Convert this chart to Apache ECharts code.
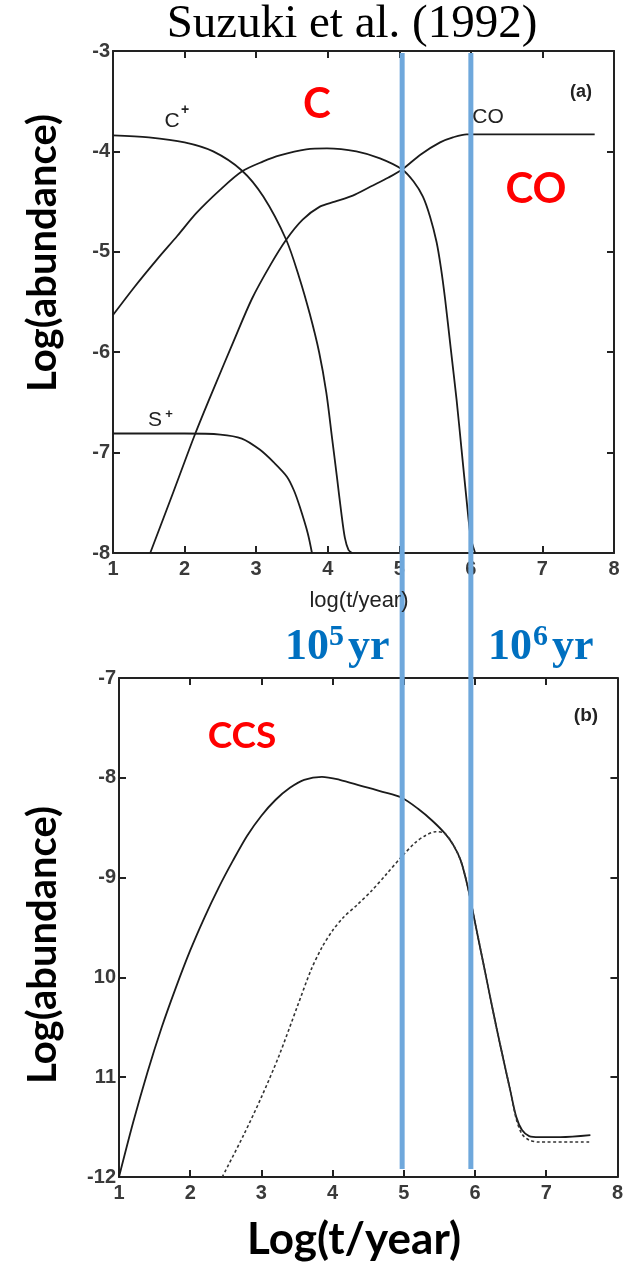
<!DOCTYPE html>
<html>
<head>
<meta charset="utf-8">
<script src="https://cdn.jsdelivr.net/npm/echarts@6/dist/echarts.min.js"></script>
<style>
  html, body { margin: 0; padding: 0; background: #fff; }
  #main { width: 626px; height: 1268px; }
</style>
</head>
<body>
<div id="main"></div>
<script>
// Horizontal axis: log10(t / year)
const logTicks = [1, 2, 3, 4, 5, 6, 7, 8];

// Panel (a): log abundances of C+, C, CO and S+
const cPlus = [
  [1.0, -3.84], [1.5, -3.86], [2.0, -3.91], [2.4, -4.0], [2.8, -4.19], [3.1, -4.45],
  [3.42, -4.88], [3.6, -5.25], [3.75, -5.62], [3.88, -6.0], [3.98, -6.4], [4.06, -6.85],
  [4.13, -7.25], [4.19, -7.6], [4.24, -7.85], [4.29, -7.97], [4.34, -8.0]
];
const cNeutral = [
  [1.0, -5.63], [1.3, -5.35], [1.61, -5.08], [1.9, -4.84], [2.17, -4.61], [2.5, -4.38],
  [2.8, -4.2], [3.1, -4.1], [3.33, -4.04], [3.7, -3.98], [3.99, -3.97], [4.4, -4.0],
  [4.73, -4.07], [5.04, -4.18], [5.2, -4.3], [5.33, -4.45], [5.43, -4.65], [5.52, -4.9],
  [5.58, -5.15], [5.64, -5.47], [5.72, -5.97], [5.80, -6.47], [5.87, -6.97], [5.94, -7.47],
  [6.0, -7.85], [6.06, -8.0]
];
const coMol = [
  [1.52, -8.0], [1.85, -7.38], [2.15, -6.81], [2.42, -6.34], [2.68, -5.9], [2.94, -5.47],
  [3.2, -5.13], [3.42, -4.88], [3.65, -4.68], [3.89, -4.55], [4.1, -4.5], [4.35, -4.44],
  [4.6, -4.35], [4.85, -4.26], [5.04, -4.18], [5.3, -4.03], [5.57, -3.91], [5.75, -3.86],
  [5.94, -3.83], [6.5, -3.83], [7.0, -3.83], [7.73, -3.83]
];
const sPlus = [
  [1.0, -6.81], [1.5, -6.81], [2.0, -6.81], [2.5, -6.82], [2.8, -6.86], [3.05, -6.97],
  [3.25, -7.1], [3.43, -7.24], [3.53, -7.38], [3.61, -7.54], [3.72, -7.8], [3.78, -8.0]
];

// Panel (b): log abundance of CCS (solid and dotted models)
const ccsSolid = [
  [1.0, -12.0], [1.2, -11.45], [1.4, -10.95], [1.6, -10.5], [1.8, -10.1], [2.0, -9.73],
  [2.2, -9.4], [2.4, -9.1], [2.6, -8.83], [2.8, -8.58], [3.0, -8.38], [3.2, -8.22],
  [3.4, -8.1], [3.6, -8.02], [3.85, -7.99], [4.1, -8.02], [4.4, -8.08], [4.7, -8.14],
  [4.97, -8.2], [5.2, -8.31], [5.4, -8.43], [5.58, -8.56], [5.7, -8.68], [5.8, -8.83],
  [5.9, -9.1], [6.0, -9.45], [6.1, -9.8], [6.3, -10.5], [6.5, -11.15], [6.58, -11.4],
  [6.66, -11.53], [6.76, -11.59], [6.9, -11.6], [7.2, -11.6], [7.62, -11.58]
];
const ccsDotted = [
  [2.45, -12.0], [2.75, -11.58], [3.0, -11.2], [3.25, -10.78], [3.5, -10.3], [3.7, -9.92],
  [3.85, -9.7], [4.0, -9.53], [4.15, -9.4], [4.35, -9.27], [4.55, -9.13], [4.75, -8.97],
  [4.97, -8.79], [5.16, -8.65], [5.3, -8.58], [5.45, -8.54], [5.58, -8.56], [5.7, -8.68],
  [5.8, -8.83], [5.9, -9.1], [6.0, -9.45], [6.1, -9.8], [6.3, -10.5], [6.5, -11.15],
  [6.58, -11.42], [6.66, -11.57], [6.76, -11.63], [6.9, -11.65], [7.61, -11.65]
];

// Vertical tick labels as printed on each panel
const aYLabels = ['-8', '-7', '-6', '-5', '-4', '-3'];
const bYLabels = ['-12', '11', '10', '-9', '-8', '-7'];

// Markers for 10^5 and 10^6 yr (log t)
const markerLogT = [5.04, 6.0];

const axisColor = '#222';
const curveColor = '#1b1b1b';
const labelFont = { fontFamily: 'Liberation Sans', fontSize: 20, fontWeight: 'bold', color: '#3a3a3a' };

function xAxes(gi) {
  const base = {
    gridIndex: gi, type: 'value', min: 1, max: 8, interval: 1,
    axisLine: { show: true, onZero: false, lineStyle: { color: axisColor, width: 2 } },
    axisTick: { show: true, inside: true, length: 7, lineStyle: { color: axisColor, width: 2 } },
    splitLine: { show: false }
  };
  return [
    Object.assign({}, base, {
      position: 'bottom',
      axisLabel: Object.assign({ margin: 6, formatter: v => logTicks.includes(v) ? String(v) : '' }, labelFont)
    }),
    Object.assign({}, base, { position: 'top', axisLabel: { show: false } })
  ];
}

function yAxes(gi, min, max, labels) {
  const base = {
    gridIndex: gi, type: 'value', min: min, max: max, interval: 1,
    axisLine: { show: true, onZero: false, lineStyle: { color: axisColor, width: 2 } },
    axisTick: { show: true, inside: true, length: 7, lineStyle: { color: axisColor, width: 2 } },
    splitLine: { show: false }
  };
  return [
    Object.assign({}, base, {
      position: 'left',
      axisLabel: Object.assign({ margin: 3, formatter: v => labels[Math.round(v - min)] }, labelFont)
    }),
    Object.assign({}, base, { position: 'right', axisLabel: { show: false } })
  ];
}

function curve(xi, yi, data, dashed) {
  return {
    type: 'line', xAxisIndex: xi, yAxisIndex: yi, data: data,
    showSymbol: false, smooth: 0.3, silent: true, clip: true,
    lineStyle: dashed
      ? { color: '#333', width: 1.6, type: [3, 2.5] }
      : { color: curveColor, width: 1.8 }
  };
}

const chart = echarts.init(document.getElementById('main'), null, { renderer: 'canvas' });

chart.setOption({
  animation: false,
  backgroundColor: '#fff',
  grid: [
    { left: 113, top: 51, width: 501, height: 502 },
    { left: 119, top: 678, width: 501, height: 499 }
  ],
  xAxis: xAxes(0).concat(xAxes(1)),
  yAxis: yAxes(0, -8, -3, aYLabels).concat(yAxes(1, -12, -7, bYLabels)),
  series: [
    curve(0, 0, cPlus), curve(0, 0, cNeutral), curve(0, 0, coMol), curve(0, 0, sPlus),
    curve(2, 2, ccsSolid), curve(2, 2, ccsDotted, true)
  ]
});

function txt(x, y, text, font, fill, align, extra) {
  return Object.assign({
    type: 'text', x: x, y: y, z: 100, silent: true,
    style: {
      text: text, font: font, fill: fill,
      align: align || 'center', verticalAlign: 'middle',
      textAlign: align || 'center', textVerticalAlign: 'middle'
    }
  }, extra || {});
}

const blue = '#0070C0';
const red = '#FF0000';
const ink = '#222';
const graphics = [
  txt(352, 25, 'Suzuki et al. (1992)', '47px "Liberation Serif"', '#000'),
  // panel labels
  txt(172, 121, 'C', '21px "Liberation Sans"', ink),
  txt(185, 110, '+', 'bold 14px "Liberation Sans"', ink),
  txt(155, 420, 'S', '21px "Liberation Sans"', ink),
  txt(169, 414, '+', 'bold 13px "Liberation Sans"', ink),
  txt(488, 117, 'CO', '21px "Liberation Sans"', ink),
  txt(581, 92, '(a)', 'bold 18px "Liberation Sans"', ink),
  txt(586, 716, '(b)', 'bold 19px "Liberation Sans"', ink),
  txt(359, 601, 'log(t/year)', '22px "Liberation Sans"', ink),
  // species regions
  txt(317, 104, 'C', 'bold 42px Lato', red),
  txt(536, 189, 'CO', 'bold 42px Lato', red),
  txt(242, 736, 'CCS', 'bold 37px Lato', red),
  // time markers
  txt(285, 648, '10', 'bold 44px "Liberation Serif"', blue, 'left'),
  txt(329, 637, '5', 'bold 30px "Liberation Serif"', blue, 'left'),
  txt(348, 648, 'yr', 'bold 44px "Liberation Serif"', blue, 'left'),
  txt(488, 648, '10', 'bold 44px "Liberation Serif"', blue, 'left'),
  txt(533, 637, '6', 'bold 30px "Liberation Serif"', blue, 'left'),
  txt(552, 648, 'yr', 'bold 44px "Liberation Serif"', blue, 'left'),
  // axis titles
  txt(43, 253, 'Log(abundance)', 'bold 40px Lato', '#000', 'center', { rotation: Math.PI / 2 }),
  txt(43, 945, 'Log(abundance)', 'bold 40px Lato', '#000', 'center', { rotation: Math.PI / 2 }),
  txt(354, 1240, 'Log(t/year)', 'bold 44px Lato', '#000')
];

markerLogT.forEach(function (lt) {
  const px = chart.convertToPixel({ xAxisIndex: 0 }, lt);
  graphics.push({
    type: 'line', z: 90, silent: true,
    shape: { x1: px, y1: 53, x2: px, y2: 1169 },
    style: { stroke: '#6FA8DC', lineWidth: 5 }
  });
});

chart.setOption({ graphic: graphics });
</script>
</body>
</html>
